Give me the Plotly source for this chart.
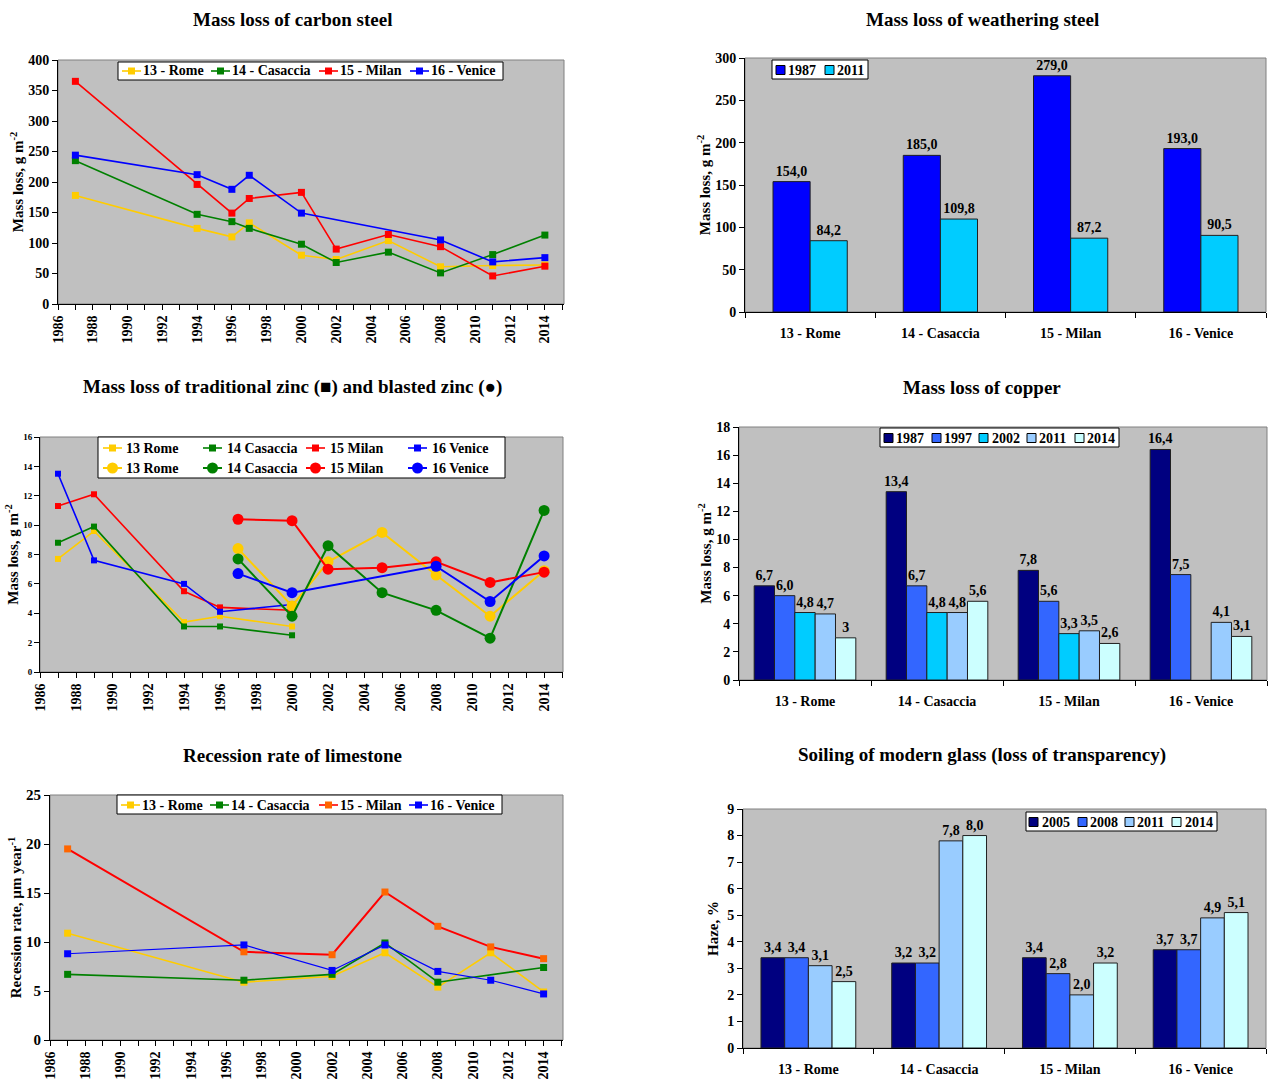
import plotly.graph_objects as go

W, H = 1271, 1079

# ---------------- DATA ----------------
sites = ["13 - Rome", "14 - Casaccia", "15 - Milan", "16 - Venice"]
zinc_names = ["13 Rome", "14 Casaccia", "15 Milan", "16 Venice"]

# Carbon steel (g m-2)
cs_rome_x = [1987, 1994, 1996, 1997, 2000, 2002, 2005, 2008, 2011, 2014]
cs_rome_y = [178, 124, 110, 133, 80, 73, 104, 61, 63, 64]
cs_cas_x = [1987, 1994, 1996, 1997, 2000, 2002, 2005, 2008, 2011, 2014]
cs_cas_y = [235, 147, 135, 124, 98, 68, 85, 51, 81, 113]
cs_mil_x = [1987, 1994, 1996, 1997, 2000, 2002, 2005, 2008, 2011, 2014]
cs_mil_y = [365, 196, 149, 173, 183, 90, 114, 94, 46, 62]
cs_ven_x = [1987, 1994, 1996, 1997, 2000, 2008, 2011, 2014]
cs_ven_y = [244, 212, 188, 211, 149, 105, 69, 76]

# Zinc traditional (squares)
zt_x = [1987, 1989, 1994, 1996, 2000]
zt_rome = [7.7, 9.6, 3.4, 3.8, 3.1]
zt_cas = [8.8, 9.9, 3.1, 3.1, 2.5]
zt_mil = [11.3, 12.1, 5.5, 4.4, 4.2]
zt_ven = [13.5, 7.6, 6.0, 4.1, 4.6]
# Zinc blasted (circles)
zb_x = [1997, 2000, 2002, 2005, 2008, 2011, 2014]
zb_rome = [8.4, 4.5, 7.5, 9.5, 6.6, 3.8, 6.9]
zb_cas = [7.7, 3.8, 8.6, 5.4, 4.2, 2.3, 11.0]
zb_mil = [10.4, 10.3, 7.0, 7.1, 7.5, 6.1, 6.8]
zb_ven_x = [1997, 2000, 2008, 2011, 2014]
zb_ven = [6.7, 5.4, 7.2, 4.8, 7.9]

# Limestone recession rate (um/year)
ls_x = [1987, 1997, 2002, 2005, 2008, 2011, 2014]
ls_rome = [10.9, 5.9, 6.5, 8.9, 5.4, 8.9, 4.9]
ls_cas_x = [1987, 1997, 2002, 2005, 2008, 2014]
ls_cas = [6.7, 6.1, 6.7, 9.9, 5.9, 7.4]
ls_mil = [19.5, 9.0, 8.7, 15.1, 11.6, 9.5, 8.3]
ls_ven = [8.8, 9.7, 7.1, 9.7, 7.0, 6.1, 4.7]

# Weathering steel
ws_years = ["1987", "2011"]
ws_1987 = [154.0, 185.0, 279.0, 193.0]
ws_2011 = [84.2, 109.8, 87.2, 90.5]

# Copper
cu_years = ["1987", "1997", "2002", "2011", "2014"]
cu_vals = [
    [6.7, 13.4, 7.8, 16.4],
    [6.0, 6.7, 5.6, 7.5],
    [4.8, 4.8, 3.3, None],
    [4.7, 4.8, 3.5, 4.1],
    [3, 5.6, 2.6, 3.1],
]

# Glass haze (%)
gl_years = ["2005", "2008", "2011", "2014"]
gl_vals = [
    [3.4, 3.2, 3.4, 3.7],
    [3.4, 3.2, 2.8, 3.7],
    [3.1, 7.8, 2.0, 4.9],
    [2.5, 8.0, 3.2, 5.1],
]

# ---------------- STYLE ----------------
YEL, GRN, RED, BLU, ORG = "#FFCC00", "#008000", "#FF0000", "#0000FF", "#FF6600"
FONT = "Liberation Serif"
PLOTBG = "#C0C0C0"


def lbl(v):
    if v is None:
        return ""
    if isinstance(v, int):
        return str(v)
    return f"{v:.1f}".replace(".", ",")


def px(x):
    return x / W


def py(y):
    return 1 - y / H


fig = go.Figure()

# panel boxes (pixels): left, right, top, bottom
boxes = {
    1: (58, 564, 60, 304),     # carbon steel
    2: (745, 1266, 58, 312),   # weathering steel
    3: (40, 563, 437, 672),    # zinc
    4: (739, 1267, 427, 680),  # copper
    5: (50, 563, 795, 1040),   # limestone
    6: (743, 1266, 809, 1048), # glass
}


def ax(n):
    return ("x" if n == 1 else f"x{n}"), ("y" if n == 1 else f"y{n}")


def line(n, x, y, color, name, symbol="square", size=7, mcolor=None, width=1.6):
    xa, ya = ax(n)
    fig.add_trace(go.Scatter(
        x=x, y=y, mode="lines+markers", name=name, showlegend=False,
        line=dict(color=color, width=width),
        marker=dict(symbol=symbol, size=size, color=mcolor or color),
        xaxis=xa, yaxis=ya, cliponaxis=False,
    ))


# Panel 1: carbon steel
line(1, cs_rome_x, cs_rome_y, YEL, sites[0])
line(1, cs_cas_x, cs_cas_y, GRN, sites[1])
line(1, cs_mil_x, cs_mil_y, RED, sites[2])
line(1, cs_ven_x, cs_ven_y, BLU, sites[3])

# Panel 3: zinc
line(3, zt_x, zt_rome, YEL, zinc_names[0], size=6)
line(3, zt_x, zt_cas, GRN, zinc_names[1], size=6)
line(3, zt_x, zt_mil, RED, zinc_names[2], size=6)
line(3, zt_x, zt_ven, BLU, zinc_names[3], size=6)
line(3, zb_x, zb_rome, YEL, zinc_names[0], symbol="circle", size=11, width=2)
line(3, zb_x, zb_cas, GRN, zinc_names[1], symbol="circle", size=11, width=2)
line(3, zb_x, zb_mil, RED, zinc_names[2], symbol="circle", size=11, width=2)
line(3, zb_ven_x, zb_ven, BLU, zinc_names[3], symbol="circle", size=11, width=2)

# Panel 5: limestone
line(5, ls_x, ls_rome, YEL, sites[0])
line(5, ls_cas_x, ls_cas, GRN, sites[1])
line(5, ls_x, ls_mil, RED, sites[2], mcolor=ORG, width=2)
line(5, ls_x, ls_ven, BLU, sites[3], width=1.2)


def bars(n, name, vals, color, idx, k, gap):
    xa, ya = ax(n)
    w = (1 - gap) / k
    fig.add_trace(go.Bar(
        x=sites, y=vals, name=name, showlegend=False,
        marker=dict(color=color, line=dict(color="#202020", width=1)),
        text=[lbl(v) for v in vals], textposition="outside", constraintext="none",
        textfont=dict(family=FONT, size=14, color="black", weight="bold"),
        width=w, offset=-(1 - gap) / 2 + idx * w,
        cliponaxis=False, xaxis=xa, yaxis=ya,
    ))


# Panel 2: weathering steel
ws_colors = ["#0000FF", "#00CCFF"]
for i, (yr, vals) in enumerate(zip(ws_years, [ws_1987, ws_2011])):
    bars(2, yr, vals, ws_colors[i], i, 2, 0.43)

# Panel 4: copper
cu_colors = ["#000080", "#3366FF", "#00CCFF", "#99CCFF", "#CCFFFF"]
for i, (yr, vals) in enumerate(zip(cu_years, cu_vals)):
    bars(4, yr, vals, cu_colors[i], i, 5, 0.23)

# Panel 6: glass
gl_colors = ["#000080", "#3366FF", "#99CCFF", "#CCFFFF"]
for i, (yr, vals) in enumerate(zip(gl_years, gl_vals)):
    bars(6, yr, vals, gl_colors[i], i, 4, 0.275)

# ---------------- AXES ----------------
layout = dict(
    width=W, height=H, margin=dict(l=0, r=0, t=0, b=0),
    paper_bgcolor="white", plot_bgcolor=PLOTBG,
    font=dict(family=FONT, size=14, color="black", weight="bold"),
    barmode="overlay", showlegend=False,
)

common_y = dict(showline=True, linecolor="black", linewidth=1, ticks="outside",
                ticklen=5, tickcolor="black", showgrid=False, zeroline=False,
                automargin=False)
ytitles = {
    1: ("Mass loss, g m<sup>-2</sup>", [0, 400], 50, 14, 15, 0),
    2: ("Mass loss, g m<sup>-2</sup>", [0, 300], 50, 14, 15, 0),
    3: ("Mass loss, g m<sup>-2</sup>", [0, 16], 2, 9, 15, 0),
    4: ("Mass loss, g m<sup>-2</sup>", [0, 18], 2, 14, 15, 0),
    5: ("Recession rate, µm year<sup>-1</sup>", [0, 25], 5, 15, 15, 0),
    6: ("Haze, %", [0, 9], 1, 14, 15, 4),
}
xranges = {1: [1986, 2015.1], 3: [1986, 2015.05], 5: [1986, 2015.1]}

for n, (l, r, t, b) in boxes.items():
    xk = "xaxis" if n == 1 else f"xaxis{n}"
    yk = "yaxis" if n == 1 else f"yaxis{n}"
    xa_name, ya_name = ax(n)
    title, rng, dt, tfs, ttfs, so = ytitles[n]
    layout[yk] = dict(common_y, domain=[py(b), py(t)], anchor=xa_name, range=rng, dtick=dt,
                      tickfont=dict(size=tfs),
                      title=dict(text=title, font=dict(size=ttfs), standoff=so))
    if n in xranges:
        layout[xk] = dict(domain=[px(l), px(r)], anchor=ya_name, range=xranges[n], dtick=2,
                          tick0=1986, tickangle=-90, showline=True, linecolor="black",
                          ticks="outside", ticklen=5, tickcolor="black", showgrid=False,
                          zeroline=False, tickfont=dict(size=14), automargin=False,
                          minor=dict(dtick=1, tick0=1986, ticks="outside", ticklen=5,
                                     tickcolor="black", showgrid=False))
    else:
        layout[xk] = dict(domain=[px(l), px(r)], anchor=ya_name, type="category",
                          range=[-0.5, 3.5],
                          showline=True, linecolor="black", ticks="outside", ticklen=5,
                          tickcolor="black", tickson="boundaries", showgrid=False,
                          tickfont=dict(size=14), automargin=False, ticklabelstandoff=8)
fig.update_layout(**layout)

# plot area borders
for n in boxes:
    xa, ya = ax(n)
    fig.add_shape(type="rect", xref=f"{xa} domain", yref=f"{ya} domain", x0=0, x1=1, y0=0, y1=1,
                  line=dict(color="#808080", width=1), layer="below")

# Titles
titles = [
    ("Mass loss of carbon steel", 292, 19),
    ("Mass loss of weathering steel", 982, 19),
    ("Mass loss of traditional zinc (■) and blasted zinc (●)", 292, 387),
    ("Mass loss of copper", 982, 387),
    ("Recession rate of limestone", 292, 755),
    ("Soiling of modern glass (loss of transparency)", 982, 755),
]
for txt, cx, cy in titles:
    fig.add_annotation(text=txt, x=px(cx), y=py(cy), xref="paper", yref="paper",
                       showarrow=False, xanchor="center", yanchor="middle",
                       font=dict(size=19, family=FONT, weight="bold"))


# ---------------- LEGENDS (boxes drawn in paper space) ----------------
def legend_box(x0, x1, y0, y1):
    fig.add_shape(type="rect", xref="paper", yref="paper", x0=px(x0), x1=px(x1),
                  y0=py(y1), y1=py(y0), line=dict(color="black", width=1),
                  fillcolor="white", layer="above")


def legend_text(x, y, text, size=14):
    fig.add_annotation(text=text, x=px(x), y=py(y), xref="paper", yref="paper",
                       showarrow=False, xanchor="left", yanchor="middle", borderpad=0,
                       font=dict(size=size, family=FONT, weight="bold"))


def legend_line(sx, y, color, label, tx, kind="square", mcolor=None, lw=1.6):
    fig.add_shape(type="line", xref="paper", yref="paper", x0=px(sx), x1=px(sx + 19),
                  y0=py(y), y1=py(y), line=dict(color=color, width=lw), layer="above")
    cx = sx + 9.5
    mc = mcolor or color
    if kind == "square":
        s = 3.5
        fig.add_shape(type="rect", xref="paper", yref="paper", x0=px(cx - s), x1=px(cx + s),
                      y0=py(y + s), y1=py(y - s), fillcolor=mc, line=dict(width=0), layer="above")
    else:
        s = 5.5
        fig.add_shape(type="circle", xref="paper", yref="paper", x0=px(cx - s), x1=px(cx + s),
                      y0=py(y + s), y1=py(y - s), fillcolor=mc, line=dict(width=0), layer="above")
    legend_text(tx, y, label)


def legend_bar(sx, y, color, label, tx):
    s = 4.5
    fig.add_shape(type="rect", xref="paper", yref="paper", x0=px(sx), x1=px(sx + 2 * s),
                  y0=py(y + s), y1=py(y - s), fillcolor=color,
                  line=dict(color="black", width=1), layer="above")
    legend_text(tx, y, label)


line_colors = [YEL, GRN, RED, BLU]

# Panel 1 legend
legend_box(118, 503, 62, 80)
for c, lab, sx, tx in zip(line_colors, sites, [122, 211, 319, 410], [142, 231, 339, 430]):
    legend_line(sx, 71, c, lab, tx)

# Panel 3 legend (two rows)
legend_box(98, 505, 437, 478)
for c, lab, sx, tx in zip(line_colors, zinc_names, [103, 203, 306, 408], [125, 226, 329, 431]):
    legend_line(sx, 448, c, lab, tx)
    legend_line(sx, 468, c, lab, tx, kind="circle", lw=2)

# Panel 5 legend
legend_box(117, 502, 795, 814)
for c, lab, sx, tx, mc in zip(line_colors, sites, [121, 210, 319, 409], [141, 230, 339, 429],
                              [YEL, GRN, ORG, BLU]):
    legend_line(sx, 805, c, lab, tx, mcolor=mc)

# Panel 2 legend
legend_box(772, 868, 60, 79)
for c, lab, sx, tx in zip(ws_colors, ws_years, [776, 825], [787, 836]):
    legend_bar(sx, 70, c, lab, tx)

# Panel 4 legend
legend_box(880, 1119, 428, 447)
for c, lab, sx, tx in zip(cu_colors, cu_years, [884, 932, 979, 1027, 1075],
                          [895, 943, 991, 1038, 1086]):
    legend_bar(sx, 438, c, lab, tx)

# Panel 6 legend
legend_box(1026, 1217, 812, 831)
for c, lab, sx, tx in zip(gl_colors, gl_years, [1029, 1078, 1125, 1172],
                          [1041, 1089, 1136, 1184]):
    legend_bar(sx, 822, c, lab, tx)

# remove the browser's default page margin so the figure sits at the window origin
fig.write_html("out.html", config={"displayModeBar": False},
               post_script="document.body.style.margin='0px';")
